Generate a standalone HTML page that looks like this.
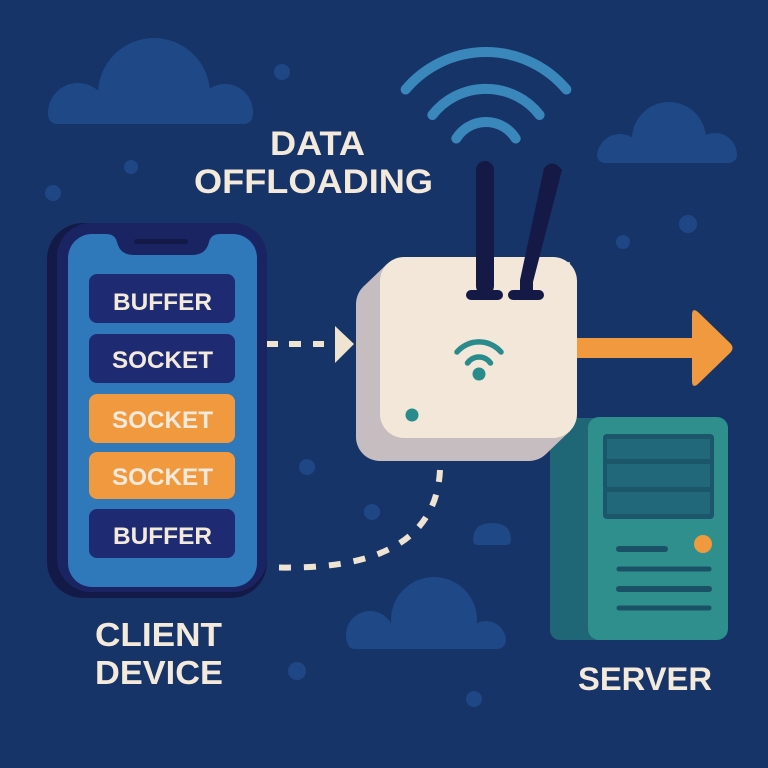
<!DOCTYPE html>
<html><head><meta charset="utf-8"><style>
html,body{margin:0;padding:0;background:#173469;}
svg{display:block;}
text{font-family:"Liberation Sans",sans-serif;font-weight:bold;fill:#f4eadb;}
</style></head><body>
<svg width="768" height="768" viewBox="0 0 768 768" xmlns="http://www.w3.org/2000/svg">
<defs>
<clipPath id="c1"><rect x="48" y="0" width="205" height="124" rx="9"/></clipPath>
<clipPath id="c2"><rect x="597" y="0" width="140" height="163" rx="8"/></clipPath>
<clipPath id="c3"><rect x="346" y="0" width="160" height="649" rx="9"/></clipPath>
</defs>
<rect width="768" height="768" fill="#173469"/>
<!-- clouds -->
<g fill="#1e4886">
 <g clip-path="url(#c1)">
  <circle cx="154" cy="94" r="56"/><circle cx="78" cy="113" r="30"/><circle cx="225" cy="112" r="28"/>
  <rect x="70" y="100" width="160" height="24"/>
 </g>
 <g clip-path="url(#c2)">
  <circle cx="669" cy="139" r="37"/><circle cx="620" cy="157" r="23"/><circle cx="715" cy="155" r="22"/>
  <rect x="615" y="145" width="105" height="18"/>
 </g>
 <g clip-path="url(#c3)">
  <circle cx="434" cy="620" r="43"/><circle cx="370" cy="635" r="24"/><circle cx="486" cy="641" r="20"/>
  <rect x="365" y="630" width="125" height="19"/>
 </g>
 <path d="M473 540 Q473 523 492 523 Q511 523 511 540 Q511 545 506 545 L478 545 Q473 545 473 540 Z"/>
</g>
<!-- dots -->
<g fill="#1f4785">
 <circle cx="282" cy="72" r="8"/><circle cx="131" cy="167" r="7"/><circle cx="53" cy="193" r="8"/>
 <circle cx="688" cy="224" r="9"/><circle cx="623" cy="242" r="7"/>
 <circle cx="307" cy="467" r="8"/><circle cx="372" cy="512" r="8"/>
 <circle cx="297" cy="671" r="9"/><circle cx="474" cy="699" r="8"/>
</g>
<!-- wifi arcs -->
<g fill="none" stroke="#3a88bb" stroke-width="10" stroke-linecap="round">
 <path d="M405.6 89.5 A105 105 0 0 1 566.4 89.5"/>
 <path d="M432.4 115 A68 68 0 0 1 539.6 115"/>
 <path d="M456.3 138.5 A35 35 0 0 1 515.7 138.5"/>
</g>
<!-- title -->
<text x="270" y="155" font-size="34" textLength="95" lengthAdjust="spacingAndGlyphs">DATA</text>
<text x="194" y="193" font-size="34" textLength="239" lengthAdjust="spacingAndGlyphs">OFFLOADING</text>
<!-- server -->
<rect x="550" y="418" width="60" height="222" rx="10" fill="#1f6677"/>
<rect x="588" y="417" width="140" height="223" rx="11" fill="#2f8f8d"/>
<rect x="603" y="434" width="111" height="85" rx="4" fill="#1c566a"/>
<g fill="#22687b">
 <rect x="607" y="439" width="103" height="20"/>
 <rect x="607" y="464" width="103" height="23"/>
 <rect x="607" y="492" width="103" height="22"/>
</g>
<circle cx="703" cy="544" r="9" fill="#f0993f"/>
<g stroke="#1b5167" stroke-linecap="round">
 <line x1="619" y1="549" x2="665" y2="549" stroke-width="6"/>
 <line x1="619" y1="569" x2="709" y2="569" stroke-width="5"/>
 <line x1="619" y1="589" x2="709" y2="589" stroke-width="6"/>
 <line x1="619" y1="608" x2="709" y2="608" stroke-width="5"/>
</g>
<!-- router -->
<rect x="356" y="280" width="197" height="181" rx="24" fill="#c5bdbf"/>
<polygon points="387,264 363,287 363,454 546,454 570,431 570,262" fill="#c5bdbf"/>
<rect x="380" y="257" width="197" height="181" rx="24" fill="#f2e7d9"/>
<g fill="#141a45">
 <rect x="476" y="161" width="18" height="134" rx="9"/>
 <path d="M544 168 Q553 158 562 170 L533 282 L533 294 L520 294 L520 280 Z"/>
 <rect x="466" y="290" width="37" height="10" rx="5"/>
 <rect x="508" y="290" width="36" height="10" rx="5"/>
</g>
<g fill="none" stroke="#2a8b8c" stroke-width="5.5" stroke-linecap="round">
 <path d="M467.5 363 A14 14 0 0 1 490.5 363"/>
 <path d="M457 352 A29 29 0 0 1 501 352"/>
</g>
<circle cx="479" cy="374" r="6.5" fill="#2a8b8c"/>
<circle cx="412" cy="415" r="6.5" fill="#2a8b8c"/>
<!-- orange arrow -->
<path d="M577 338 L692 338 L692 315 Q692 307 698 312 L730 343 Q735 348 730 353 L698 384 Q692 389 692 381 L692 358 L577 358 Z" fill="#f0993f"/>
<!-- dashed connectors -->
<g fill="#efe4d2">
 <rect x="267" y="341" width="11" height="6"/>
 <rect x="289" y="341" width="12" height="6"/>
 <rect x="313" y="341" width="11" height="6"/>
 <polygon points="335,326 354,344 335,363"/>
</g>
<path d="M440 470 Q435 575 265 567" fill="none" stroke="#efe4d2" stroke-width="6" stroke-dasharray="12 13"/>
<!-- phone -->
<rect x="47" y="223" width="220" height="375" rx="36" fill="#141a48"/>
<rect x="57" y="223" width="210" height="369" rx="34" fill="#1b2462"/>
<rect x="68" y="234" width="189" height="353" rx="24" fill="#2f78ba"/>
<path d="M106 234 Q115 234 117 242 Q120 255 134 255 L192 255 Q206 255 209 242 Q211 234 220 234 Z" fill="#1b2462"/>
<rect x="134" y="239" width="54" height="5" rx="2.5" fill="#141a48"/>
<rect x="89" y="274" width="146" height="49" rx="8" fill="#1e2b73"/>
<rect x="89" y="334" width="146" height="49" rx="8" fill="#1e2b73"/>
<rect x="89" y="394" width="146" height="49" rx="8" fill="#f0993f"/>
<rect x="89" y="452" width="146" height="47" rx="8" fill="#f0993f"/>
<rect x="89" y="509" width="146" height="49" rx="8" fill="#1e2b73"/>
<text x="113" y="310" font-size="24" textLength="99" lengthAdjust="spacingAndGlyphs">BUFFER</text>
<text x="112" y="368" font-size="24" textLength="101" lengthAdjust="spacingAndGlyphs">SOCKET</text>
<text x="112" y="428" font-size="24" textLength="101" lengthAdjust="spacingAndGlyphs">SOCKET</text>
<text x="112" y="485" font-size="24" textLength="101" lengthAdjust="spacingAndGlyphs">SOCKET</text>
<text x="113" y="544" font-size="24" textLength="99" lengthAdjust="spacingAndGlyphs">BUFFER</text>
<!-- labels -->
<text x="95" y="646" font-size="33" textLength="127" lengthAdjust="spacingAndGlyphs">CLIENT</text>
<text x="95" y="684" font-size="33" textLength="128" lengthAdjust="spacingAndGlyphs">DEVICE</text>
<text x="578" y="690" font-size="32" textLength="134" lengthAdjust="spacingAndGlyphs">SERVER</text>
</svg>
</body></html>
